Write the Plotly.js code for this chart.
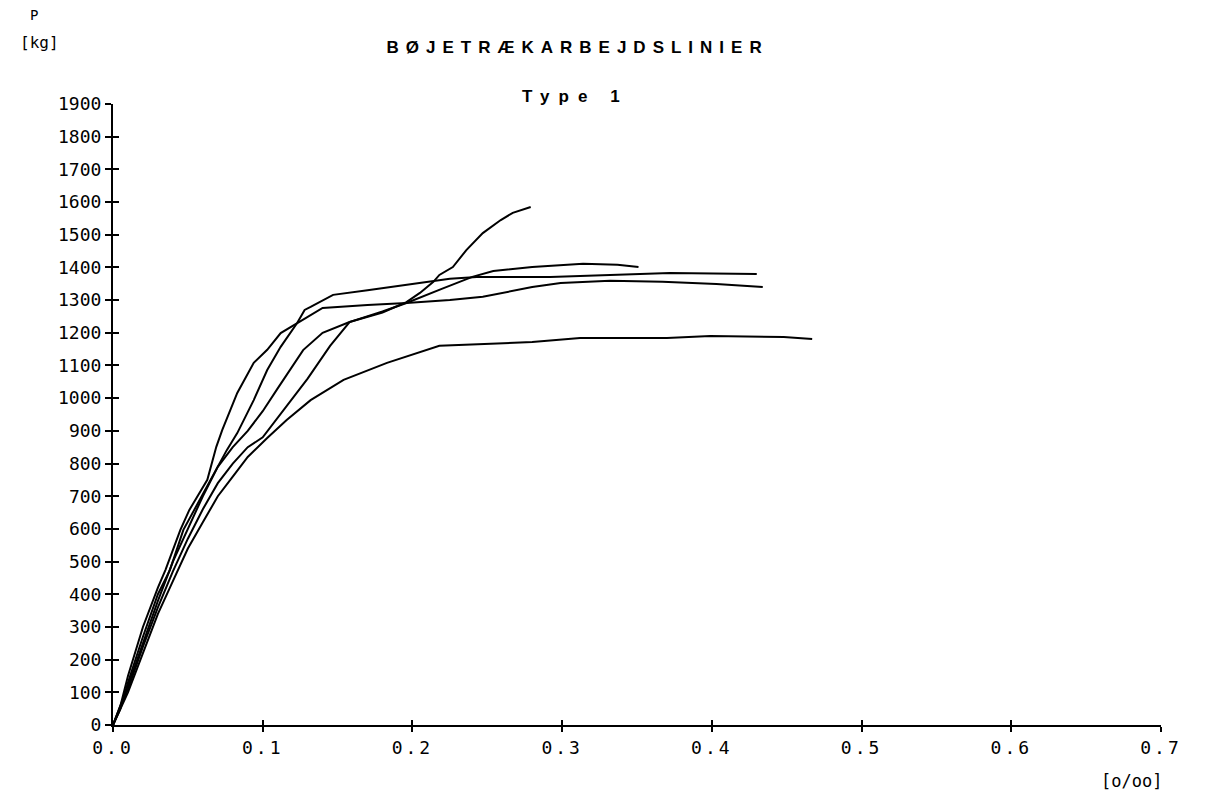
<!DOCTYPE html>
<html>
<head>
<meta charset="utf-8">
<script src="https://cdn.plot.ly/plotly-3.0.1.min.js"></script>
<style>
html,body{margin:0;padding:0;background:#fff;}
#chart{width:1207px;height:795px;}
.xtick text{letter-spacing:3px;}
</style>
</head>
<body>
<div id="chart"></div>
<script>
// strain [o/oo] and load P [kg] for five test specimens
const curveA_x = [0,0.01,0.02,0.03,0.04,0.05,0.06,0.07,0.08,0.09,0.10,0.11,0.127,0.14,0.158,0.18,0.196,0.205,0.214,0.218,0.227,0.236,0.247,0.259,0.267,0.279];
const curveA_y = [0,120,250,380,500,600,700,790,850,900,960,1030,1147,1200,1233,1262,1294,1322,1356,1377,1401,1453,1505,1545,1567,1585];

const curveB_x = [0,0.01,0.02,0.03,0.04,0.05,0.06,0.07,0.08,0.09,0.10,0.11,0.13,0.145,0.158,0.18,0.196,0.22,0.24,0.254,0.28,0.314,0.337,0.351];
const curveB_y = [0,110,240,360,470,570,660,740,800,850,880,940,1060,1160,1233,1265,1291,1335,1371,1389,1401,1411,1408,1401];

const curveC_x = [0,0.005,0.01,0.02,0.03,0.038,0.047,0.058,0.076,0.083,0.094,0.103,0.112,0.123,0.128,0.132,0.147,0.17,0.20,0.225,0.243,0.292,0.372,0.405,0.43];
const curveC_y = [0,50,130,270,400,474,597,688,841,893,994,1086,1157,1230,1270,1279,1316,1330,1350,1365,1371,1371,1383,1380,1380];

const curveD_x = [0,0.005,0.01,0.02,0.03,0.035,0.045,0.051,0.063,0.069,0.073,0.083,0.094,0.103,0.112,0.123,0.14,0.17,0.196,0.225,0.247,0.28,0.299,0.332,0.367,0.403,0.434];
const curveD_y = [0,60,150,300,420,474,597,658,750,851,903,1016,1108,1148,1199,1230,1276,1285,1291,1300,1310,1340,1352,1359,1356,1349,1340];

const curveE_x = [0,0.01,0.02,0.03,0.04,0.05,0.06,0.07,0.08,0.09,0.103,0.116,0.132,0.154,0.183,0.214,0.218,0.28,0.312,0.37,0.399,0.448,0.467];
const curveE_y = [0,100,220,340,440,540,620,700,760,820,878,933,994,1056,1108,1154,1160,1172,1184,1184,1190,1187,1181];

const xTickVals = [0,0.1,0.2,0.3,0.4,0.5,0.6,0.7];
const xTickText = ["0.0","0.1","0.2","0.3","0.4","0.5","0.6","0.7"];
const yTickVals = [0,100,200,300,400,500,600,700,800,900,1000,1100,1200,1300,1400,1500,1600,1700,1800,1900];
const yTickText = yTickVals.map(String);

const titleMain = "BØJETRÆKARBEJDSLINIER";
const titleSub = "Type 1";
const yUnitTop = "P";
const yUnit = "[kg]";
const xUnit = "[o/oo]";

const series = [[curveA_x,curveA_y],[curveB_x,curveB_y],[curveC_x,curveC_y],[curveD_x,curveD_y],[curveE_x,curveE_y]];
const traces = series.map(s => ({
  x: s[0], y: s[1], type: 'scatter', mode: 'lines',
  line: {color: '#000', width: 2, shape: 'linear'},
  hoverinfo: 'skip', showlegend: false
}));
// empty trace so the overlay axes (inner halves of the crossing ticks) are drawn
traces.push({x: [], y: [], xaxis: 'x2', yaxis: 'y2', type: 'scatter', mode: 'lines', showlegend: false, hoverinfo: 'skip'});

const tickFont = {family: 'DejaVu Sans Mono, Liberation Mono, monospace', size: 18, color: '#000'};

const layout = {
  width: 1207, height: 795,
  margin: {l: 113, r: 46, t: 104, b: 70, pad: 0},
  paper_bgcolor: '#fff', plot_bgcolor: '#fff',
  showlegend: false,
  xaxis: {
    range: [0, 0.7], tickvals: xTickVals, ticktext: xTickText,
    showgrid: false, zeroline: false, showline: true, linecolor: '#000', linewidth: 2,
    ticks: 'outside', ticklen: 5, tickwidth: 2, tickcolor: '#000',
    tickfont: tickFont, fixedrange: true
  },
  yaxis: {
    range: [0, 1900], tickvals: yTickVals, ticktext: yTickText,
    showgrid: false, zeroline: false, showline: true, linecolor: '#000', linewidth: 2,
    ticks: 'outside', ticklen: 6, tickwidth: 2, tickcolor: '#000',
    tickfont: tickFont, fixedrange: true
  },
  xaxis2: {
    overlaying: 'x', anchor: 'y2', range: [0, 0.7], tickvals: xTickVals.slice(1),
    showticklabels: false, showgrid: false, zeroline: false, showline: false,
    ticks: 'inside', ticklen: 5, tickwidth: 2, tickcolor: '#000', fixedrange: true
  },
  yaxis2: {
    overlaying: 'y', anchor: 'x2', range: [0, 1900], tickvals: yTickVals.slice(1, -1),
    showticklabels: false, showgrid: false, zeroline: false, showline: false,
    ticks: 'inside', ticklen: 6, tickwidth: 2, tickcolor: '#000', fixedrange: true
  },
  annotations: [
    {text: '<b>' + titleMain + '</b>', xref: 'paper', yref: 'paper', x: 0.443, y: 1.0 + (104-47)/621, xanchor: 'center', yanchor: 'middle', showarrow: false,
     font: {family: 'Liberation Sans, Arial, sans-serif', size: 17, color: '#000'}},
    {text: '<b>' + titleSub + '</b>', xref: 'paper', yref: 'paper', x: 0.441, y: 1.0 + (104-97)/621, xanchor: 'center', yanchor: 'middle', showarrow: false,
     font: {family: 'Liberation Sans, Arial, sans-serif', size: 17, color: '#000'}},
    {text: yUnitTop, xref: 'paper', yref: 'paper', x: (34-113)/1048, y: 1.0 + (104-15)/621, xanchor: 'center', yanchor: 'middle', showarrow: false,
     font: {family: 'DejaVu Sans Mono, monospace', size: 14, color: '#000'}},
    {text: yUnit, xref: 'paper', yref: 'paper', x: (39-113)/1048, y: 1.0 + (104-42)/621, xanchor: 'center', yanchor: 'middle', showarrow: false,
     font: {family: 'DejaVu Sans Mono, monospace', size: 16, color: '#000'}},
    {text: xUnit, xref: 'paper', yref: 'paper', x: (1131-113)/1048, y: -(781-725)/621, xanchor: 'center', yanchor: 'middle', showarrow: false,
     font: {family: 'DejaVu Sans Mono, monospace', size: 17, color: '#000'}}
  ]
};

Plotly.newPlot('chart', traces, layout, {staticPlot: true, displayModeBar: false}).then(() => {
  const notes = document.querySelectorAll('.annotation-text');
  if (notes[0]) notes[0].style.letterSpacing = '7px';
  if (notes[1]) notes[1].style.letterSpacing = '9px';
});
</script>
</body>
</html>
